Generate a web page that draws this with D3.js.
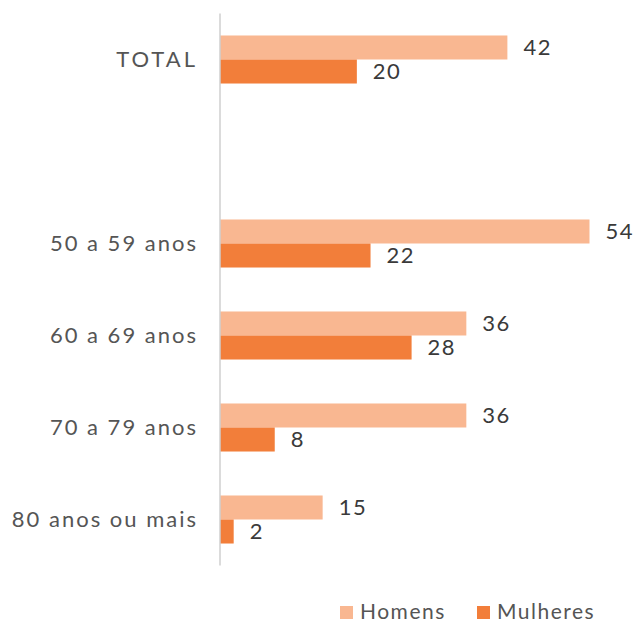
<!DOCTYPE html>
<html lang="pt">
<head>
<meta charset="utf-8">
<title>Homens e Mulheres por faixa etária</title>
<script src="https://d3js.org/d3.v7.min.js"></script>
<style>
body { margin: 0; background: #fff; }
text { font-family: Lato, "Open Sans", sans-serif; letter-spacing: 1.5px; }
</style>
</head>
<body>
<script>
var categories = ["TOTAL", "", "50 a 59 anos", "60 a 69 anos", "70 a 79 anos", "80 anos ou mais"];
var homens = [42, null, 54, 36, 36, 15];
var mulheres = [20, null, 22, 28, 8, 2];
var seriesNames = ["Homens", "Mulheres"];
var colors = ["#F9B791", "#F27E3A"];

var w = 635, h = 623;
var x0 = 220;

var svg = d3.select("body").append("svg")
    .attr("width", w)
    .attr("height", h);

var x = d3.scaleLinear().domain([0, 54]).range([x0, 589.5]);

var y = d3.scaleBand()
    .domain(d3.range(categories.length))
    .range([13.5, 565.5])
    .paddingInner(0.478)
    .paddingOuter(0.239);

var sub = d3.scaleBand().domain([0, 1]).range([0, y.bandwidth()]);

var rows = categories.map(function(c, i) {
  return { i: i, label: c, vals: [homens[i], mulheres[i]] };
});

// bars
var g = svg.append("g");
rows.forEach(function(r) {
  r.vals.forEach(function(v, s) {
    if (v == null) return;
    g.append("rect")
      .attr("x", x(0))
      .attr("y", y(r.i) + sub(s))
      .attr("width", x(v) - x(0))
      .attr("height", sub.bandwidth())
      .attr("fill", colors[s]);
    g.append("text")
      .attr("x", x(v) + 16)
      .attr("y", y(r.i) + sub(s) + sub.bandwidth() / 2)
      .attr("dy", "0.36em")
      .attr("fill", "#3a3a3a")
      .style("font-size", "22px")
      .text(v);
  });
});

// axis line
svg.append("line")
    .attr("x1", x(0)).attr("x2", x(0))
    .attr("y1", y.range()[0]).attr("y2", y.range()[1])
    .attr("stroke", "#cfcfcf")
    .attr("stroke-width", 1.5);

// category labels
svg.selectAll(".cat")
    .data(rows)
    .enter().append("text")
    .attr("class", "cat")
    .attr("x", 198)
    .attr("y", function(d) { return y(d.i) + y.bandwidth() / 2; })
    .attr("dy", "0.36em")
    .attr("text-anchor", "end")
    .attr("fill", "#555")
    .style("font-size", "22px")
    .style("letter-spacing", function(d) { return d.label === "TOTAL" ? "3px" : "2px"; })
    .text(function(d) { return d.label; });

// legend
var lx = [340, 477];
var lg = svg.append("g");
seriesNames.forEach(function(n, i) {
  lg.append("rect")
    .attr("x", lx[i]).attr("y", 606)
    .attr("width", 13).attr("height", 13)
    .attr("fill", colors[i]);
  lg.append("text")
    .attr("x", lx[i] + 20).attr("y", 611)
    .attr("dy", "0.36em")
    .attr("fill", "#555")
    .style("font-size", "21px")
    .text(n);
});
</script>
</body>
</html>
